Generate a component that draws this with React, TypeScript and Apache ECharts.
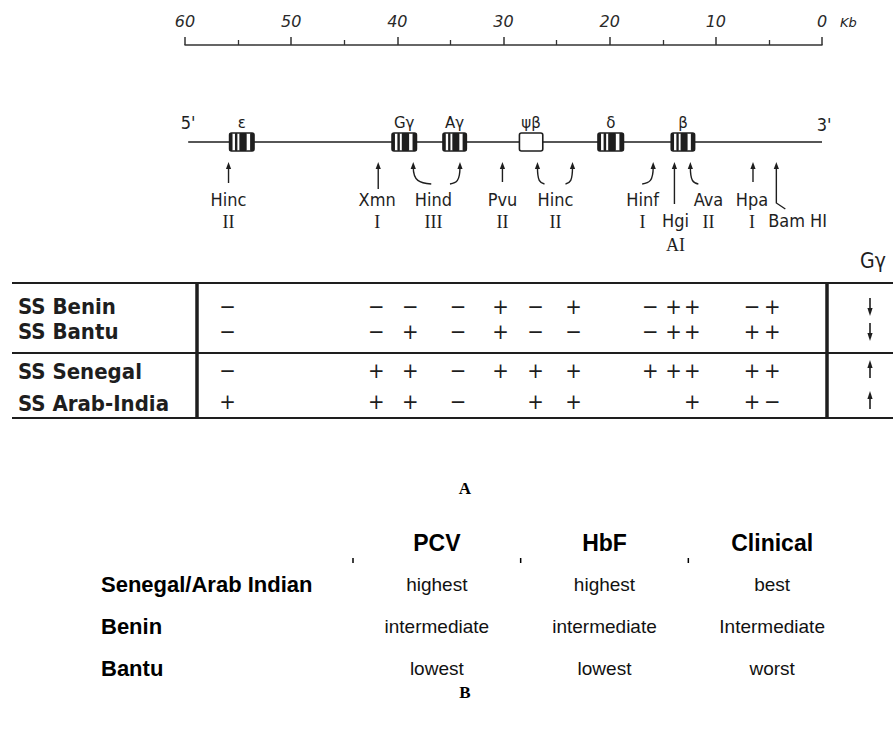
import React, { useEffect, useRef } from "react";
import * as echarts from "echarts";

// ---------------- data ----------------
const kbMin = 0;
const kbMax = 60;
const kbStep = 10;
const kbUnit = "Kb";

const backboneKb = [59.7, 0];
const strandEnds = ["5'", "3'"];

const geneNames = ["ε", "Gγ", "Aγ", "ψβ", "δ", "β"];
const geneStartKb = [55.8, 40.5, 35.7, 28.5, 21.1, 14.2];
const geneEndKb = [53.5, 38.2, 33.5, 26.3, 18.7, 12.0];
const genePseudo = [false, false, false, true, false, false];

// polymorphic restriction sites; the haplotype table columns follow this order
const siteKb = [55.9, 41.8, 38.5, 34.1, 30.1, 26.8, 23.5, 15.9, 13.9, 12.4, 6.5, 4.3];

const enzymeNames = ["Hinc", "Xmn", "Hind", "Pvu", "Hinc", "Hinf", "Hgi", "Ava", "Hpa", "Bam HI"];
const enzymeSuffixes = ["II", "I", "III", "II", "II", "I", "AI", "II", "I", ""];
const enzymeLabelKb = [55.9, 41.9, 36.6, 30.1, 25.1, 16.9, 13.8, 10.7, 6.6, 2.3];

const haplotypes = ["SS Benin", "SS Bantu", "SS Senegal", "SS Arab-India"];
const beninSites = ["-", "-", "-", "-", "+", "-", "+", "-", "+", "+", "-", "+"];
const bantuSites = ["-", "-", "+", "-", "+", "-", "-", "-", "+", "+", "+", "+"];
const senegalSites = ["-", "+", "+", "-", "+", "+", "+", "+", "+", "+", "+", "+"];
const arabIndiaSites = ["+", "+", "+", "-", "", "+", "+", "", "", "+", "+", "-"];
const gGammaHeader = "Gγ";
const gGammaLevels = ["down", "down", "up", "up"];

const panelLabels = ["A", "B"];
const phenotypeColumns = ["PCV", "HbF", "Clinical"];
const phenotypeRows = ["Senegal/Arab Indian", "Benin", "Bantu"];
const pcvValues = ["highest", "intermediate", "lowest"];
const hbfValues = ["highest", "intermediate", "lowest"];
const clinicalValues = ["best", "Intermediate", "worst"];

// ---------------- layout / style ----------------
const INK = "#1e1e1e";
const HAND = "'Liberation Sans Narrow', 'DejaVu Sans Condensed', sans-serif";
const SERIF = "'Liberation Serif', 'DejaVu Serif', serif";
const SANS = "'Liberation Sans', Arial, sans-serif";
const COND = "'DejaVu Sans Condensed', 'DejaVu Sans', sans-serif";

const GRID_LEFT = 185;
const GRID_RIGHT = 73;
const AXIS_Y = 45;
const LINE_Y = 142;
const BOX_H = 18;
const GENE_LABEL_Y = 123;
const TIP_Y = 162;
const NAME_Y = 199;
const SUFFIX_Y = 222;
const SHIFT = 21;
const TABLE_TOP = 283;
const TABLE_MID = 353;
const TABLE_BOTTOM = 418;
const TABLE_X0 = 12;
const TABLE_X1 = 893;
const DIV_LEFT = 197;
const DIV_RIGHT = 827;
const ROW_SIGN_Y = [306, 331, 370, 401];
const ROW_TEXT_Y = [306, 331, 371, 403];
const ROW_TEXT_X = 18;
// small horizontal nudges (px) of the hand-lettered table columns relative to their sites
const COLUMN_NUDGE = [-1, -2, -3, -2, -2, -2, 1, -3, -1, 2, -1, -4];
const GG_X = 870;
const GG_HEADER_Y = 261;
const PANEL_X = 465;
const PANEL_Y = [488, 692];
const EXON_BANDS = [
  [0, 0.12],
  [0.22, 0.32],
  [0.4, 0.7],
  [0.84, 1],
];

const siteArrows: any[] = [
  { kind: "straight", len: 21 },
  { kind: "straight", len: 27 },
  { kind: "bend", bend: 18 },
  { kind: "bend", bend: -10 },
  { kind: "straight", len: 20 },
  { kind: "bend", bend: 7 },
  { kind: "bend", bend: -7 },
  { kind: "bend", bend: -11 },
  { kind: "straight", len: 42 },
  { kind: "bend", bend: 8 },
  { kind: "straight", len: 20 },
  { kind: "hook", len: 41, bend: 9 },
];
const enzymeLabelShift = [0, 0, 0, 0, 0, 0, 1, 0, 0, 1];

function txt(text: string, x: number, y: number, extra: any = {}) {
  const align = extra.align || "center";
  const valign = extra.verticalAlign || "middle";
  return {
    type: "text",
    style: {
      text,
      x,
      y,
      fill: extra.fill || INK,
      align,
      textAlign: align,
      verticalAlign: valign,
      textVerticalAlign: valign,
      fontFamily: extra.fontFamily || SANS,
      fontSize: extra.fontSize || 14,
      fontWeight: extra.fontWeight || "normal",
      fontStyle: extra.fontStyle || "normal",
    },
  };
}

function buildOption() {
  const genes = geneNames.map((name, i) => ({
    name,
    start: geneStartKb[i],
    end: geneEndKb[i],
    pseudo: genePseudo[i],
  }));

  const siteRows = [beninSites, bantuSites, senegalSites, arabIndiaSites];
  const cells: any[] = [];
  siteRows.forEach((row, r) =>
    row.forEach((s, c) => {
      if (s) cells.push({ kb: siteKb[c], col: c, row: r, sign: s === "+" ? "+" : "−" });
    })
  );

  const phenoValues = [pcvValues, hbfValues, clinicalValues];
  const phenoCells: any[] = [];
  phenoValues.forEach((col, c) => col.forEach((v, r) => phenoCells.push({ c, r, v })));

  const stroke = { stroke: INK, lineWidth: 1.4, fill: "none" };

  const graphic: any[] = [];
  // table rules
  [TABLE_TOP, TABLE_MID, TABLE_BOTTOM].forEach((y) =>
    graphic.push({
      type: "line",
      shape: { x1: TABLE_X0, y1: y, x2: TABLE_X1, y2: y },
      style: { stroke: INK, lineWidth: 2 },
    })
  );
  [DIV_LEFT, DIV_RIGHT].forEach((x) =>
    graphic.push({
      type: "line",
      shape: { x1: x, y1: TABLE_TOP, x2: x, y2: TABLE_BOTTOM },
      style: { stroke: INK, lineWidth: 3.5 },
    })
  );
  haplotypes.forEach((h, i) =>
    graphic.push(
      txt(h, ROW_TEXT_X, ROW_TEXT_Y[i], {
        align: "left",
        fontFamily: COND,
        fontSize: 22,
        fontWeight: "bold",
      })
    )
  );
  graphic.push(txt(gGammaHeader, GG_X + 3, GG_HEADER_Y, { fontFamily: COND, fontSize: 21 }));
  gGammaLevels.forEach((lv, i) => {
    const y = ROW_SIGN_Y[i];
    const dir = lv === "down" ? 1 : -1;
    graphic.push({
      type: "line",
      shape: { x1: GG_X, y1: y - 8 * dir, x2: GG_X, y2: y + 4 * dir },
      style: { stroke: INK, lineWidth: 1.6 },
    });
    graphic.push({
      type: "polygon",
      shape: {
        points: [
          [GG_X, y + 10 * dir],
          [GG_X - 2.6, y + 2 * dir],
          [GG_X + 2.6, y + 2 * dir],
        ],
      },
      style: { fill: INK },
    });
  });
  graphic.push(txt(kbUnit, 840, 22, { align: "left", fontFamily: "'DejaVu Sans', sans-serif", fontStyle: "italic", fontSize: 13 }));
  panelLabels.forEach((p, i) =>
    graphic.push(txt(p, PANEL_X, PANEL_Y[i], { fontFamily: SERIF, fontWeight: "bold", fontSize: 17, fill: "#000" }))
  );

  return {
    animation: false,
    backgroundColor: "#ffffff",
    grid: [
      { left: GRID_LEFT, right: GRID_RIGHT, top: AXIS_Y, height: 380 },
      { left: 353, right: 39, top: 563, height: 126 },
    ],
    xAxis: [
      {
        gridIndex: 0,
        type: "value",
        min: kbMin,
        max: kbMax,
        interval: kbStep,
        inverse: true,
        position: "top",
        axisLine: { show: true, onZero: false, lineStyle: { color: "#333", width: 1.5 } },
        axisTick: { show: true, length: 8, lineStyle: { color: "#333", width: 1.5 } },
        minorTick: { show: true, splitNumber: 2, length: 5, lineStyle: { color: "#333", width: 1.3 } },
        axisLabel: {
          margin: 16,
          fontSize: 16,
          fontStyle: "italic",
          fontFamily: "'DejaVu Sans', sans-serif",
          color: "#2a2a2a",
        },
        splitLine: { show: false },
        minorSplitLine: { show: false },
      },
      {
        gridIndex: 1,
        type: "category",
        data: phenotypeColumns,
        position: "top",
        axisLine: { show: false },
        axisTick: { show: false },
        axisLabel: { margin: 9, fontSize: 23, fontWeight: "bold", fontFamily: SANS, color: "#000" },
        splitLine: { show: false },
      },
    ],
    yAxis: [
      { gridIndex: 0, type: "value", min: 0, max: 1, show: false },
      {
        gridIndex: 1,
        type: "category",
        data: phenotypeRows,
        inverse: true,
        axisLine: { show: false },
        axisTick: { show: false },
        axisLabel: {
          align: "left",
          margin: 252,
          fontSize: 22,
          fontWeight: "bold",
          fontFamily: SANS,
          color: "#000",
        },
        splitLine: { show: false },
      },
    ],
    series: [
      {
        name: "backbone",
        type: "custom",
        xAxisIndex: 0,
        yAxisIndex: 0,
        data: [[backboneKb[0], 0]],
        renderItem: (params: any, api: any) => {
          const x1 = api.coord([backboneKb[0], 0])[0];
          const x2 = api.coord([backboneKb[1], 0])[0];
          return {
            type: "group",
            children: [
              { type: "line", shape: { x1, y1: LINE_Y, x2, y2: LINE_Y }, style: { stroke: INK, lineWidth: 1.4 } },
              txt(strandEnds[0], x1, LINE_Y - 20, { fontFamily: HAND, fontSize: 18 }),
              txt(strandEnds[1], x2 + 2, LINE_Y - 18, { fontFamily: HAND, fontSize: 18 }),
            ],
          };
        },
      },
      {
        name: "genes",
        type: "custom",
        xAxisIndex: 0,
        yAxisIndex: 0,
        data: genes.map((g) => [g.start, g.end]),
        renderItem: (params: any, api: any) => {
          const g = genes[params.dataIndex];
          const xa = api.coord([g.start, 0])[0];
          const xb = api.coord([g.end, 0])[0];
          const left = Math.min(xa, xb);
          const w = Math.abs(xb - xa);
          const top = LINE_Y - BOX_H / 2;
          const children: any[] = [
            {
              type: "rect",
              shape: { x: left, y: top, width: w, height: BOX_H, r: 2 },
              style: { fill: "#fff", stroke: INK, lineWidth: 1.6 },
            },
          ];
          if (!g.pseudo) {
            EXON_BANDS.forEach(([a, b]) =>
              children.push({
                type: "rect",
                shape: { x: left + a * w, y: top, width: (b - a) * w, height: BOX_H, r: 1 },
                style: { fill: INK },
              })
            );
          }
          children.push(txt(g.name, left + w / 2, GENE_LABEL_Y, { fontFamily: "'DejaVu Sans', sans-serif", fontSize: 15 }));
          return { type: "group", children };
        },
      },
      {
        name: "sites",
        type: "custom",
        xAxisIndex: 0,
        yAxisIndex: 0,
        data: siteKb.map((k) => [k, 0]),
        renderItem: (params: any, api: any) => {
          const i = params.dataIndex;
          const x = api.coord([siteKb[i], 0])[0];
          const a = siteArrows[i];
          const children: any[] = [
            {
              type: "polygon",
              shape: { points: [[x, TIP_Y], [x - 2.6, TIP_Y + 7], [x + 2.6, TIP_Y + 7]] },
              style: { fill: INK },
            },
          ];
          if (a.kind === "straight") {
            children.push({ type: "line", shape: { x1: x, y1: TIP_Y + 5, x2: x, y2: TIP_Y + a.len }, style: stroke });
          } else if (a.kind === "bend") {
            children.push({
              type: "bezierCurve",
              shape: {
                x1: x,
                y1: TIP_Y + 5,
                cpx1: x,
                cpy1: TIP_Y + 19,
                cpx2: x + a.bend * 0.35,
                cpy2: TIP_Y + 21,
                x2: x + a.bend,
                y2: TIP_Y + 22,
              },
              style: stroke,
            });
          } else {
            children.push({
              type: "polyline",
              shape: { points: [[x, TIP_Y + 5], [x, TIP_Y + a.len], [x + a.bend, TIP_Y + a.len + 6]] },
              style: stroke,
            });
          }
          return { type: "group", children };
        },
      },
      {
        name: "enzymes",
        type: "custom",
        xAxisIndex: 0,
        yAxisIndex: 0,
        data: enzymeLabelKb.map((k) => [k, 0]),
        renderItem: (params: any, api: any) => {
          const i = params.dataIndex;
          const x = api.coord([enzymeLabelKb[i], 0])[0];
          const s = enzymeLabelShift[i] * SHIFT;
          const children: any[] = [txt(enzymeNames[i], x, NAME_Y + s, { fontFamily: HAND, fontSize: 18 })];
          if (enzymeSuffixes[i]) {
            children.push(txt(enzymeSuffixes[i], x, SUFFIX_Y + s + (s ? 2 : 0), { fontFamily: SERIF, fontSize: 18 }));
          }
          return { type: "group", children };
        },
      },
      {
        name: "haplotype sites",
        type: "custom",
        xAxisIndex: 0,
        yAxisIndex: 0,
        data: cells.map((c) => [c.kb, 0]),
        renderItem: (params: any, api: any) => {
          const c = cells[params.dataIndex];
          const x = api.coord([c.kb, 0])[0] + COLUMN_NUDGE[c.col];
          return txt(c.sign, x, ROW_SIGN_Y[c.row], { fontFamily: COND, fontSize: 22 });
        },
      },
      {
        name: "phenotype",
        type: "custom",
        xAxisIndex: 1,
        yAxisIndex: 1,
        data: phenoCells.map((p) => [p.c, p.r]),
        renderItem: (params: any, api: any) => {
          const p = phenoCells[params.dataIndex];
          const pt = api.coord([p.c, p.r]);
          return txt(p.v, pt[0], pt[1], { fontFamily: SANS, fontSize: 19, fill: "#111" });
        },
      },
      {
        name: "column dividers",
        type: "custom",
        xAxisIndex: 1,
        yAxisIndex: 1,
        data: [[0, 0], [1, 0], [2, 0]],
        renderItem: (params: any, api: any) => {
          const pt = api.coord([api.value(0), 0]);
          const size = api.size([1, 1]);
          const x = pt[0] - size[0] / 2;
          const y = pt[1] - size[1] / 2;
          return { type: "line", shape: { x1: x, y1: y - 5, x2: x, y2: y }, style: { stroke: "#000", lineWidth: 1.5 } };
        },
      },
    ],
    graphic,
  };
}

export default function App() {
  const ref = useRef<HTMLDivElement>(null);
  useEffect(() => {
    if (!ref.current) return;
    const chart = echarts.init(ref.current, null, { renderer: "svg" });
    chart.setOption(buildOption() as any);
    return () => chart.dispose();
  }, []);
  return (
    <div
      ref={ref}
      style={{ position: "absolute", left: 0, top: 0, width: 895, height: 742, background: "#fff" }}
    />
  );
}
